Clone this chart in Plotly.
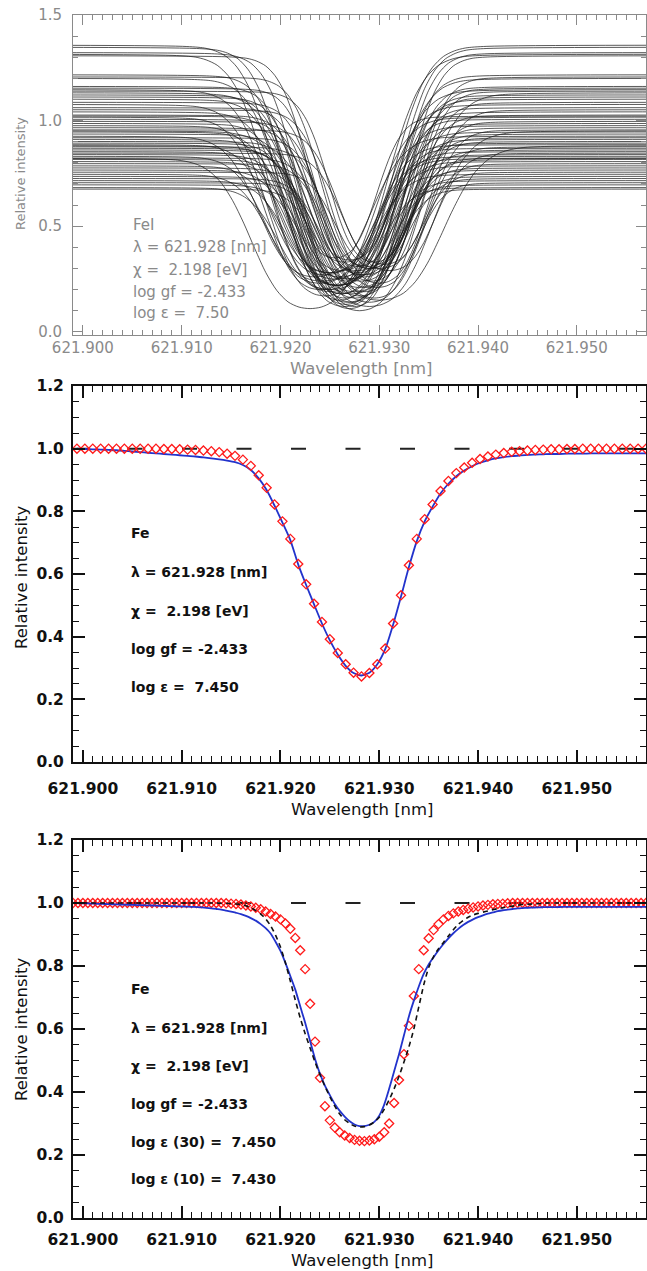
import plotly.graph_objects as go

W, H = 647, 1271

# ---------------- Panel 1 (observed profiles bundle) ----------------
# normalised line-depression template read from the averaged profile
profile_offset = [-0.060, -0.014, -0.012, -0.011, -0.010, -0.009, -0.008, -0.007,
                  -0.006, -0.005, -0.004, -0.003, -0.002, -0.001, 0.000,
                  0.001, 0.002, 0.003, 0.004, 0.005, 0.006, 0.007, 0.008,
                  0.009, 0.010, 0.011, 0.012, 0.014, 0.060]
profile_depth = [0.0, 0.003, 0.010, 0.022, 0.045, 0.09, 0.165, 0.28,
                 0.43, 0.60, 0.76, 0.88, 0.955, 0.99, 1.0,
                 0.99, 0.955, 0.88, 0.76, 0.60, 0.43, 0.28, 0.165,
                 0.09, 0.045, 0.022, 0.010, 0.003, 0.0]

# per-profile continuum, core intensity, line centre [nm] and width factor
obs_continuum = [1.355, 1.345, 1.320, 1.312, 1.305, 1.215, 1.205, 1.198, 1.160, 1.152,
                 1.145, 1.138, 1.120, 1.110, 1.100, 1.085, 1.075, 1.060, 1.050, 1.040,
                 1.025, 1.015, 1.005, 0.995, 0.985, 0.975, 0.965, 0.955, 0.945, 0.935,
                 0.925, 0.918, 0.910, 0.900, 0.892, 0.885, 0.875, 0.868, 0.860, 0.852,
                 0.845, 0.838, 0.830, 0.822, 0.815, 0.805, 0.795, 0.785, 0.775, 0.765,
                 0.755, 0.745, 0.735, 0.725, 0.715, 0.705, 0.695, 0.682, 0.675, 1.130,
                 0.950, 0.880, 0.820, 1.020]
obs_core = [0.22, 0.18, 0.25, 0.20, 0.28, 0.16, 0.30, 0.22, 0.14, 0.26,
            0.19, 0.33, 0.24, 0.12, 0.29, 0.21, 0.17, 0.31, 0.23, 0.15,
            0.27, 0.20, 0.34, 0.24, 0.13, 0.28, 0.19, 0.32, 0.22, 0.16,
            0.26, 0.30, 0.18, 0.24, 0.11, 0.27, 0.21, 0.33, 0.17, 0.25,
            0.29, 0.14, 0.23, 0.31, 0.19, 0.26, 0.16, 0.28, 0.21, 0.12,
            0.30, 0.24, 0.18, 0.27, 0.22, 0.14, 0.25, 0.20, 0.29, 0.10,
            0.12, 0.15, 0.11, 0.35]
obs_center = [621.9255, 621.9262, 621.9270, 621.9248, 621.9280, 621.9265, 621.9290, 621.9258, 621.9272, 621.9285,
              621.9250, 621.9295, 621.9268, 621.9275, 621.9262, 621.9288, 621.9245, 621.9278, 621.9300, 621.9260,
              621.9282, 621.9240, 621.9270, 621.9292, 621.9266, 621.9250, 621.9285, 621.9305, 621.9258, 621.9276,
              621.9235, 621.9290, 621.9262, 621.9282, 621.9270, 621.9245, 621.9298, 621.9265, 621.9280, 621.9255,
              621.9310, 621.9268, 621.9240, 621.9288, 621.9275, 621.9260, 621.9295, 621.9250, 621.9280, 621.9265,
              621.9300, 621.9242, 621.9272, 621.9285, 621.9258, 621.9290, 621.9268, 621.9250, 621.9278, 621.9280,
              621.9290, 621.9300, 621.9230, 621.9255]
obs_width = [1.10, 1.05, 1.00, 1.12, 0.95, 1.00, 0.92, 1.06, 0.96, 0.90,
             1.10, 0.86, 0.98, 0.94, 1.02, 0.92, 1.08, 0.88, 0.93, 1.00,
             0.95, 1.04, 0.85, 0.92, 0.96, 1.02, 0.90, 0.88, 0.98, 0.94,
             1.06, 0.86, 0.96, 0.92, 0.88, 1.00, 0.90, 0.84, 0.93, 0.96,
             0.88, 0.92, 1.02, 0.85, 0.95, 0.90, 0.88, 0.98, 0.86, 0.92,
             0.83, 1.00, 0.90, 0.85, 0.95, 0.87, 0.88, 0.96, 0.84, 1.15,
             1.18, 1.22, 1.12, 0.80]

# ---------------- Panel 2 (observed vs. 3D fit) ----------------
mid_wl_start, mid_wl_step = 621.8994, 0.0008
mid_obs = [1.000, 1.000, 1.000, 1.000, 1.000, 1.000, 1.000, 1.000, 1.000, 1.000, 1.000,
           0.999, 0.999, 0.998, 0.997, 0.996, 0.994, 0.992, 0.989, 0.984,
           0.977, 0.965, 0.945, 0.915, 0.875, 0.822, 0.768, 0.712, 0.632, 0.567,
           0.505, 0.447, 0.392, 0.348, 0.312, 0.285, 0.273, 0.284, 0.312, 0.362,
           0.442, 0.532, 0.628, 0.712, 0.775, 0.822, 0.865, 0.897, 0.922, 0.940,
           0.955, 0.967, 0.975, 0.981, 0.986, 0.990, 0.992, 0.994, 0.996, 0.997,
           0.998, 0.998, 0.999, 0.999,
           1.000, 1.000, 1.000, 1.000, 1.000, 1.000, 1.000, 1.000, 1.000]
mid_fit = [1.000, 0.999, 0.998, 0.997, 0.996, 0.995, 0.993, 0.991, 0.989, 0.987,
           0.985, 0.983, 0.981, 0.979, 0.977, 0.975, 0.972, 0.969, 0.966, 0.962,
           0.957, 0.948, 0.932, 0.905, 0.868, 0.818, 0.764, 0.708, 0.630, 0.565,
           0.503, 0.442, 0.388, 0.343, 0.307, 0.284, 0.276, 0.285, 0.312, 0.360,
           0.438, 0.528, 0.622, 0.705, 0.768, 0.815, 0.857, 0.888, 0.912, 0.930,
           0.944, 0.955, 0.963, 0.969, 0.973, 0.976, 0.978, 0.980, 0.981, 0.982,
           0.983, 0.983, 0.984, 0.984, 0.984, 0.985, 0.985, 0.985, 0.985, 0.985,
           0.985, 0.985, 0.985]

# ---------------- Panel 3 (observed vs. 3D and 1D fits) ----------------
bot_wl_start, bot_wl_step = 621.8990, 0.0005
bot_obs = [1.000] * 30 + [
    1.000, 0.999, 0.998, 0.997, 0.995, 0.992, 0.989, 0.985, 0.980, 0.973,
    0.965, 0.957, 0.948, 0.935, 0.918, 0.889, 0.850, 0.790, 0.680, 0.560,
    0.445, 0.355, 0.310, 0.287, 0.272, 0.262, 0.254, 0.248, 0.245, 0.244,
    0.246, 0.250, 0.258, 0.272, 0.300, 0.365, 0.438, 0.520, 0.610, 0.705,
    0.790, 0.850, 0.888, 0.914, 0.933, 0.948, 0.959, 0.967, 0.973, 0.978,
    0.982, 0.986, 0.989, 0.992, 0.994, 0.996, 0.997, 0.998, 0.999, 1.000] + [1.000] * 27
bot_fit30 = [
    1.000, 0.9995, 0.999, 0.9985, 0.998, 0.9975, 0.997, 0.9965, 0.996, 0.9955,
    0.995, 0.9945, 0.994, 0.9935, 0.993, 0.9925, 0.992, 0.9915, 0.991, 0.9905,
    0.990, 0.9895, 0.989, 0.9885, 0.988, 0.987, 0.986, 0.9845, 0.983, 0.981,
    0.979, 0.976, 0.973, 0.969, 0.965, 0.959, 0.952, 0.944, 0.933, 0.920,
    0.903, 0.877, 0.848, 0.810, 0.768, 0.725, 0.672, 0.620, 0.562, 0.505,
    0.458, 0.420, 0.390, 0.362, 0.340, 0.322, 0.307, 0.297, 0.292, 0.292,
    0.296, 0.305, 0.325, 0.360, 0.410, 0.465, 0.520, 0.580, 0.640, 0.690,
    0.735, 0.775, 0.805, 0.828, 0.850, 0.870, 0.888, 0.904, 0.918, 0.930,
    0.940, 0.948, 0.955, 0.961, 0.966, 0.970, 0.974, 0.977, 0.979, 0.981,
    0.983, 0.984, 0.985, 0.9855, 0.986, 0.9865, 0.987, 0.987, 0.987, 0.9875,
    0.9875, 0.9875, 0.988, 0.988, 0.988, 0.988, 0.988, 0.988, 0.988, 0.988,
    0.988, 0.988, 0.988, 0.988, 0.988, 0.988, 0.988]
bot_fit10 = [1.000] * 30 + [
    0.999, 0.999, 0.998, 0.997, 0.995, 0.991, 0.985, 0.976, 0.965, 0.950,
    0.928, 0.898, 0.860, 0.810, 0.752, 0.692, 0.635, 0.585, 0.540, 0.495,
    0.455, 0.418, 0.385, 0.355, 0.330, 0.312, 0.300, 0.292, 0.289, 0.290,
    0.295, 0.305, 0.320, 0.345, 0.375, 0.410, 0.450, 0.495, 0.543, 0.600,
    0.670, 0.740, 0.795, 0.830, 0.855, 0.875, 0.895, 0.915, 0.932, 0.945,
    0.955, 0.962, 0.967, 0.971, 0.975, 0.979, 0.982, 0.985, 0.988, 0.990,
    0.993, 0.995, 0.996, 0.997, 0.998, 0.999] + [1.000] * 21
continuum_level = [1.0, 1.0]

x_range = [621.899, 621.957]

text_top = ["FeI", "λ = 621.928 [nm]", "χ =\u00a0\u00a02.198 [eV]", "log gf = -2.433", "log ε =\u00a0\u00a07.50"]
text_mid = ["Fe", "λ = 621.928 [nm]", "χ =\u00a0\u00a02.198 [eV]", "log gf = -2.433", "log ε =\u00a0\u00a07.450"]
text_bot = ["Fe", "λ = 621.928 [nm]", "χ =\u00a0\u00a02.198 [eV]", "log gf = -2.433",
            "log ε (30) =\u00a0\u00a07.450", "log ε (10) =\u00a0\u00a07.430"]


def px(x):
    return x / W


def py(y):
    return 1 - y / H


mid_wl = [mid_wl_start + i * mid_wl_step for i in range(len(mid_obs))]
bot_wl = [bot_wl_start + i * bot_wl_step for i in range(len(bot_obs))]

fig = go.Figure()

# panel 1 bundle
bx, by = [], []
for c, k, m, w in zip(obs_continuum, obs_core, obs_center, obs_width):
    for d, s in zip(profile_offset, profile_depth):
        bx.append(m + w * d)
        by.append(c - (c - k) * s)
    bx.append(None)
    by.append(None)
fig.add_trace(go.Scatter(x=bx, y=by, mode="lines", xaxis="x", yaxis="y",
                         line=dict(color="rgba(25,25,25,0.9)", width=0.8, shape="spline", smoothing=0.8),
                         connectgaps=False, hoverinfo="skip"))

# panel 2
fig.add_trace(go.Scatter(x=x_range, y=continuum_level, mode="lines", xaxis="x2", yaxis="y2",
                         line=dict(color="#222", width=2, dash="15px,39.5px")))
fig.add_trace(go.Scatter(x=mid_wl, y=mid_fit, mode="lines", xaxis="x2", yaxis="y2",
                         line=dict(color="#2233cc", width=1.8, shape="spline", smoothing=0.6)))
fig.add_trace(go.Scatter(x=mid_wl, y=mid_obs, mode="markers", xaxis="x2", yaxis="y2",
                         marker=dict(symbol="diamond-open", size=7, color="#ff1a1a", line=dict(width=1.3))))

# panel 3
fig.add_trace(go.Scatter(x=x_range, y=continuum_level, mode="lines", xaxis="x3", yaxis="y3",
                         line=dict(color="#222", width=2, dash="15px,39.5px")))
fig.add_trace(go.Scatter(x=bot_wl, y=bot_obs, mode="markers", xaxis="x3", yaxis="y3",
                         marker=dict(symbol="diamond-open", size=7, color="#ff1a1a", line=dict(width=1.3))))
fig.add_trace(go.Scatter(x=bot_wl, y=bot_fit30, mode="lines", xaxis="x3", yaxis="y3",
                         line=dict(color="#2233cc", width=1.8, shape="spline", smoothing=0.6)))
fig.add_trace(go.Scatter(x=bot_wl, y=bot_fit10, mode="lines", xaxis="x3", yaxis="y3",
                         line=dict(color="#111", width=1.6, dash="5px,4px", shape="spline", smoothing=0.6)))

xdom = [px(73), px(646)]
top_col = "#8a8a8a"


def xaxis_style(domain_anchor, bold, col, standoff, fsize):
    d = dict(domain=xdom, anchor=domain_anchor, range=x_range, showgrid=False, zeroline=False,
             automargin=False,
             showline=True, linecolor=col, linewidth=(2 if bold else 1), mirror="allticks",
             ticks="inside", ticklen=(12 if bold else 10), tickwidth=(1.6 if bold else 1), tickcolor=col,
             tick0=621.9, dtick=0.01, tickformat=".3f", ticklabelstandoff=standoff,
             minor=dict(ticks="inside", dtick=0.001, ticklen=(6 if bold else 5), tickcolor=col,
                        tickwidth=(1.3 if bold else 1)),
             tickfont=dict(family="DejaVu Sans", size=fsize, color=("#111" if bold else top_col),
                           weight=("bold" if bold else "normal")))
    return d


def yaxis_style(domain, anchor, bold, col, rng, dt, mdt, standoff, fsize):
    return dict(domain=domain, anchor=anchor, range=rng, showgrid=False, zeroline=False,
                automargin=False,
                showline=True, linecolor=col, linewidth=(2 if bold else 1), mirror="allticks",
                ticks="inside", ticklen=(12 if bold else 10), tickwidth=(1.6 if bold else 1), tickcolor=col,
                tick0=0, dtick=dt, tickformat=".1f", ticklabelstandoff=standoff,
                minor=dict(ticks="inside", dtick=mdt, ticklen=(6 if bold else 5), tickcolor=col,
                           tickwidth=(1.3 if bold else 1)),
                tickfont=dict(family="DejaVu Sans", size=fsize, color=("#111" if bold else top_col),
                              weight=("bold" if bold else "normal")))


annotations = []


def add_text(x, y, t, size, color, bold=False, angle=0, xanchor="left"):
    annotations.append(dict(x=px(x), y=py(y), xref="paper", yref="paper", text=t, showarrow=False,
                            xanchor=xanchor, yanchor="middle", textangle=angle,
                            font=dict(family="DejaVu Sans", size=size, color=color,
                                      weight=("bold" if bold else "normal"))))


for t, yy in zip(text_top, [225, 247, 270, 292, 313]):
    add_text(131, yy, t, 15, top_col)
for t, yy in zip(text_mid, [533, 572, 611, 649, 687]):
    add_text(129, yy, t, 14, "#111", bold=True)
for t, yy in zip(text_bot, [989, 1028, 1066, 1104, 1142, 1179]):
    add_text(129, yy, t, 14, "#111", bold=True)

add_text(20, 174, "Relative intensity", 13, top_col, angle=-90, xanchor="center")
add_text(361, 369, "Wavelength [nm]", 16.5, top_col, xanchor="center")
add_text(21, 577, "Relative intensity", 16.5, "#111", angle=-90, xanchor="center")
add_text(362, 809, "Wavelength [nm]", 16.5, "#111", xanchor="center")
add_text(21, 1029, "Relative intensity", 16.5, "#111", angle=-90, xanchor="center")
add_text(362, 1260, "Wavelength [nm]", 16.5, "#111", xanchor="center")

fig.update_layout(
    width=W, height=H, margin=dict(l=0, r=0, t=0, b=0, autoexpand=False),
    paper_bgcolor="white", plot_bgcolor="white", showlegend=False,
    xaxis=xaxis_style("y", False, top_col, -1, 15),
    yaxis=yaxis_style([py(335), py(15)], "x", False, top_col, [-0.015, 1.5], 0.5, 0.1, 7, 15),
    xaxis2=xaxis_style("y2", True, "#111", 11, 15.5),
    yaxis2=yaxis_style([py(762), py(386)], "x2", True, "#111", [0, 1.2], 0.2, 0.05, 4, 15.5),
    xaxis3=xaxis_style("y3", True, "#111", 6, 15.5),
    yaxis3=yaxis_style([py(1218), py(840)], "x3", True, "#111", [0, 1.2], 0.2, 0.05, 4, 15.5),
    annotations=annotations,
)

fig.write_html("out.html")
